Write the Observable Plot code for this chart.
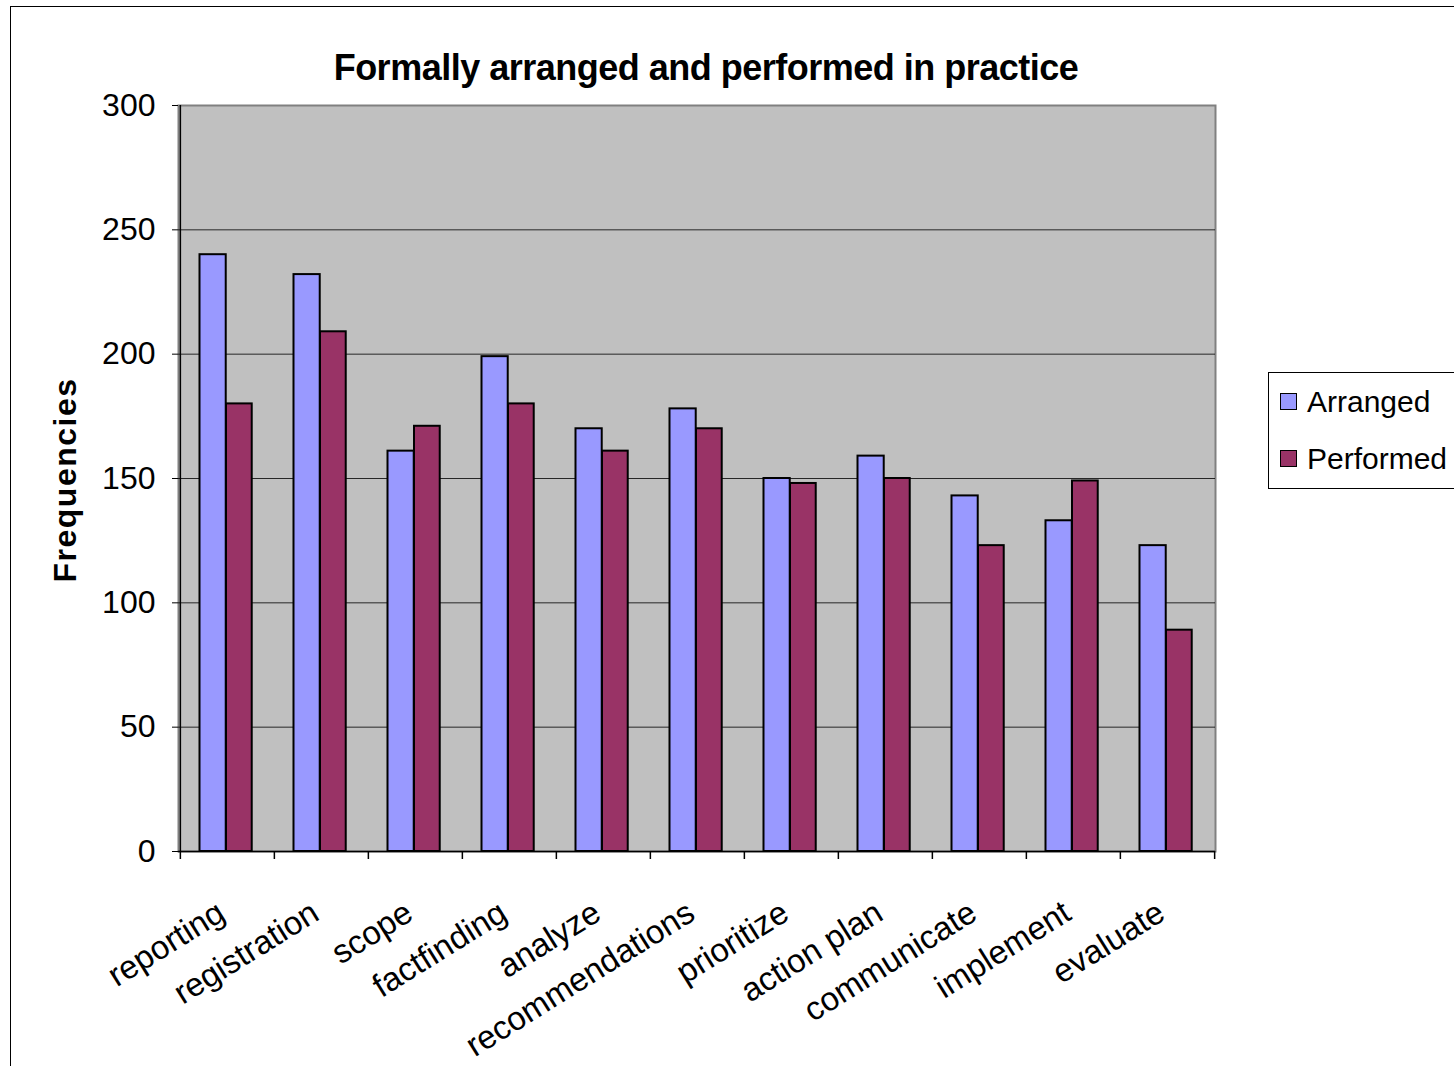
<!DOCTYPE html>
<html><head><meta charset="utf-8">
<script src="https://cdn.jsdelivr.net/npm/d3@7"></script>
<script src="https://cdn.jsdelivr.net/npm/@observablehq/plot@0.6"></script>
<style>
body{margin:0;background:#fff;font-family:"Liberation Sans",Arial,sans-serif;}
#wrap{position:relative;width:1454px;height:1066px;overflow:hidden;background:#fff;}
#border{position:absolute;left:10px;top:6px;width:1600px;height:1200px;border-left:1.5px solid #000;border-top:1.5px solid #000;}
#chart{position:absolute;left:0;top:0;}
#title{position:absolute;left:0;top:47px;width:1412px;text-align:center;font-weight:bold;font-size:36px;letter-spacing:-0.5px;color:#000;}
#ylabel{position:absolute;left:65px;top:480px;transform:translate(-50%,-50%) rotate(-90deg);font-weight:bold;font-size:32px;letter-spacing:1.5px;white-space:nowrap;color:#000;}
#legend{position:absolute;left:1268px;top:372px;width:220px;height:115px;border:1px solid #000;background:#fff;}
.li{position:absolute;left:11px;font-size:30px;line-height:30px;white-space:nowrap;color:#000;}
.sw{display:inline-block;width:15px;height:15px;border:1.5px solid #000;margin-right:10px;vertical-align:middle;position:relative;top:-3px;}
</style></head><body>
<div id="wrap">
  <div id="border"></div>
  <div id="chart"></div>
  <div id="title"></div>
  <div id="ylabel"></div>
  <div id="legend"></div>
</div>
<script>
const categories = ["reporting","registration","scope","factfinding","analyze","recommendations","prioritize","action plan","communicate","implement","evaluate"];
const arranged  = [240, 232, 161, 199, 170, 178, 150, 159, 143, 133, 123];
const performed = [180, 209, 171, 180, 161, 170, 148, 150, 123, 149, 89];
const series = ["Arranged", "Performed"];
const seriesColors = ["#9999ff", "#993366"];
const yTicks = [0, 50, 100, 150, 200, 250, 300];
const titleText = "Formally arranged and performed in practice";
const yLabelText = "Frequencies";

const data = categories.flatMap((c, i) => [
  {category: c, series: series[0], value: arranged[i]},
  {category: c, series: series[1], value: performed[i]}
]);

const W = 1454, H = 1066, mL = 178, mR = 239, mT = 105, mB = H - 851;
const bw = (W - mL - mR) / categories.length;

const chart = Plot.plot({
  width: W, height: H,
  marginLeft: mL, marginRight: mR, marginTop: mT, marginBottom: mB,
  style: {fontFamily: "Liberation Sans, Arial, sans-serif", background: "transparent", color: "#000", overflow: "visible"},
  x: {domain: categories, padding: 0, label: null},
  y: {domain: [0, 300], label: null},
  color: {domain: series, range: seriesColors},
  marks: [
    Plot.frame({fill: "#c0c0c0", stroke: "#808080", strokeWidth: 2}),
    Plot.ruleY(yTicks.slice(1, -1), {stroke: "#000", strokeWidth: 1, strokeOpacity: 0.8}),
    Plot.barY(data.filter(d => d.series === series[0]), {x: "category", y: "value", fill: "series", stroke: "#000", strokeWidth: 2, insetLeft: 19.5, insetRight: bw - 46}),
    Plot.barY(data.filter(d => d.series === series[1]), {x: "category", y: "value", fill: "series", stroke: "#000", strokeWidth: 2, insetLeft: 46, insetRight: bw - 72}),
    Plot.ruleY([0], {stroke: "#000", strokeWidth: 1.5}),
    Plot.ruleX([categories[0]], {dx: -bw / 2, stroke: "#000", strokeWidth: 1.5}),
    Plot.ruleX(categories, {x: d => d, dx: -bw / 2, y1: 0, y2: 0, insetBottom: -8, stroke: "#000", strokeWidth: 1.5}),
    Plot.ruleX([categories[categories.length - 1]], {x: d => d, dx: bw / 2, y1: 0, y2: 0, insetBottom: -8, stroke: "#000", strokeWidth: 1.5}),
    Plot.axisY({ticks: yTicks, tickSize: 6, tickPadding: 17, fontSize: 32, label: null, stroke: "#000"}),
    Plot.axisX({tickSize: 0, tickPadding: 58, tickRotate: -32, fontSize: 33, dx: -6, label: null})
  ]
});
document.getElementById("chart").appendChild(chart);

document.getElementById("title").textContent = titleText;
document.getElementById("ylabel").textContent = yLabelText;
const legend = document.getElementById("legend");
series.forEach((s, i) => {
  const item = document.createElement("div");
  item.className = "li";
  item.style.top = (14 + i * 57) + "px";
  const sw = document.createElement("span");
  sw.className = "sw";
  sw.style.background = seriesColors[i];
  item.appendChild(sw);
  item.appendChild(document.createTextNode(s));
  legend.appendChild(item);
});
</script>
</body></html>
